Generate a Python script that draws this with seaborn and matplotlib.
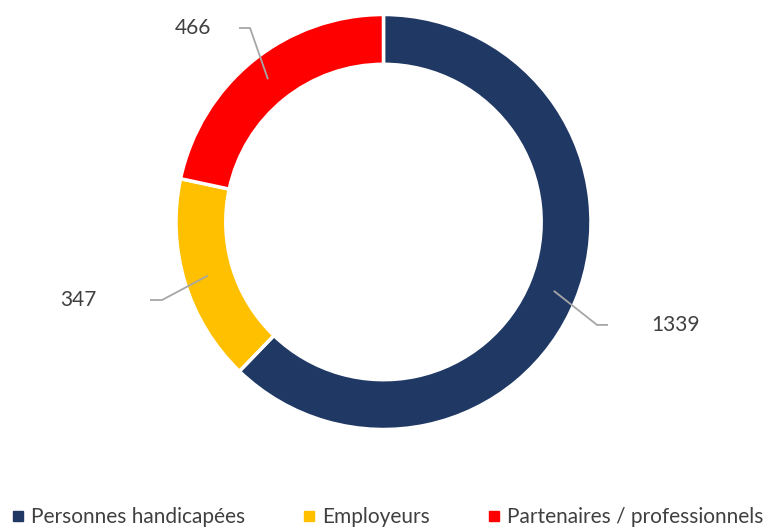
import numpy as np
import matplotlib
matplotlib.use("Agg")
import matplotlib.pyplot as plt
import seaborn as sns
from matplotlib.lines import Line2D

categories = ["Personnes handicapées", "Employeurs", "Partenaires / professionnels"]
values = [1339, 347, 466]
colors = ["#1F3864", "#FFC000", "#FF0000"]

sns.set_theme(style="white")
plt.rcParams["font.family"] = ["Lato", "DejaVu Sans"]

fig = plt.figure(figsize=(7.71, 5.32), dpi=100)
ax = fig.add_axes([0, 0, 1, 1])

wedges, _ = ax.pie(
    values,
    colors=sns.color_palette(colors),
    startangle=90,
    counterclock=False,
    radius=1.0,
    wedgeprops=dict(width=0.24, edgecolor="white", linewidth=2.5),
)

# label layout: (elbow x, y, line end x, text x) in radius units
label_layout = [
    (1.029, -0.496, 1.082, 1.405),
    (-1.067, -0.376, -1.125, -1.472),
    (-0.643, 0.935, -0.696, -0.918),
]

for w, v, (ex, ey, lx, tx) in zip(wedges, values, label_layout):
    mid = np.deg2rad((w.theta1 + w.theta2) / 2)
    r = 0.885
    ax_x, ax_y = r * np.cos(mid), r * np.sin(mid)
    ax.plot([ax_x, ex, lx], [ax_y, ey, ey], color="#A6A6A6", lw=1.3,
            solid_capstyle="butt", zorder=5)
    ax.text(tx, ey, str(v), ha="center", va="center", fontsize=15, color="#404040")

ax.set_xlim(-1.848, 1.8675)
ax.set_ylim(-1.494, 1.0699)
ax.set_aspect("auto")
ax.axis("off")

handles = [Line2D([0], [0], marker="s", linestyle="none", markersize=7,
                  markerfacecolor=c, markeredgecolor=c) for c in colors]
fig.legend(handles, categories, loc="center", bbox_to_anchor=(0.5, 1 - 517 / 532),
           ncol=3, frameon=False, fontsize=15, handletextpad=0.1,
           columnspacing=2.6, labelcolor="#404040", handlelength=1.0)

fig.savefig("out.png", dpi=100)
